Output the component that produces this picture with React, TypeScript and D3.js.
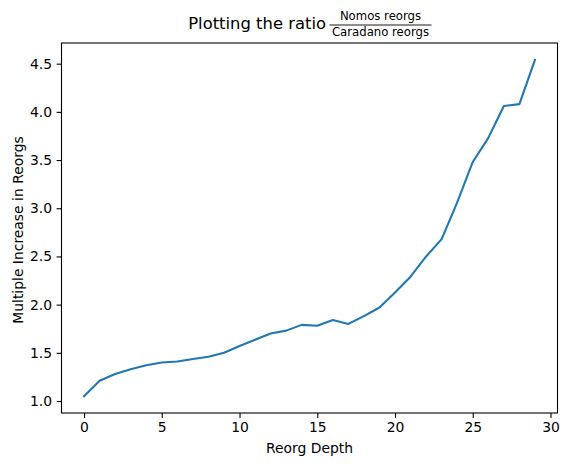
import { useEffect, useRef } from 'react';
import * as d3 from 'd3';

const depths = [0, 1, 2, 3, 4, 5, 6, 7, 8, 9, 10, 11, 12, 13, 14, 15, 16, 17, 18, 19, 20, 21, 22, 23, 24, 25, 26, 27, 28, 29];
const ratios = [1.05, 1.21, 1.28, 1.33, 1.37, 1.40, 1.41, 1.435, 1.46, 1.50, 1.57, 1.635, 1.70, 1.73, 1.79, 1.78,
	1.84, 1.80, 1.88, 1.97, 2.125, 2.29, 2.50, 2.68, 3.06, 3.48, 3.73, 4.06, 4.08, 4.54];
const xTicks = [0, 5, 10, 15, 20, 25, 30];
const yTicks = [1.0, 1.5, 2.0, 2.5, 3.0, 3.5, 4.0, 4.5];

const FONT = 'DejaVu Sans, sans-serif';

export default function App() {
	const svgRef = useRef<SVGSVGElement>(null);

	useEffect(() => {
		const W = 569, H = 466;
		const margin = { top: 43, right: 11.5, bottom: 53, left: 61.5 };
		const width = W - margin.left - margin.right;
		const height = H - margin.top - margin.bottom;

		const svg = d3.select(svgRef.current);
		svg.selectAll('*').remove();

		const xPad = (d3.max(depths)! - d3.min(depths)!) * 0.05;
		const yPad = (d3.max(ratios)! - d3.min(ratios)!) * 0.05;

		const x = d3.scaleLinear()
			.domain([d3.min(depths)! - xPad, d3.max(depths)! + xPad])
			.range([0, width]);
		const y = d3.scaleLinear()
			.domain([d3.min(ratios)! - yPad, d3.max(ratios)! + yPad])
			.range([height, 0]);

		const g = svg.append('g').attr('transform', `translate(${margin.left}, ${margin.top})`);

		// axes
		const xAxis = g.append('g')
			.attr('transform', `translate(0, ${height})`)
			.call(d3.axisBottom(x).tickValues(xTicks).tickFormat(d3.format('d')).tickSize(4.9).tickPadding(4.5));
		const yAxis = g.append('g')
			.call(d3.axisLeft(y).tickValues(yTicks).tickFormat(d3.format('.1f')).tickSize(4.9).tickPadding(4.5));
		[xAxis, yAxis].forEach(a => {
			a.select('.domain').remove();
			a.selectAll('line').attr('stroke', '#000').attr('stroke-width', 1.1);
			a.selectAll('text').attr('fill', '#000').style('font-family', FONT).style('font-size', '13.9px');
		});

		// line
		const line = d3.line<number>()
			.x((_, i) => x(depths[i]))
			.y(d => y(d));
		g.append('path')
			.datum(ratios)
			.attr('fill', 'none')
			.attr('stroke', '#1f77b4')
			.attr('stroke-width', 2.08)
			.attr('stroke-linejoin', 'round')
			.attr('stroke-linecap', 'square')
			.attr('d', line);

		// frame
		g.append('rect')
			.attr('width', width)
			.attr('height', height)
			.attr('fill', 'none')
			.attr('stroke', '#000')
			.attr('stroke-width', 1.1);

		// axis labels
		svg.append('text')
			.attr('x', margin.left + width / 2)
			.attr('y', 453)
			.attr('text-anchor', 'middle')
			.style('font-family', FONT)
			.style('font-size', '13.9px')
			.text('Reorg Depth');
		svg.append('text')
			.attr('transform', `translate(22.5, ${margin.top + height / 2 + 2}) rotate(-90)`)
			.attr('text-anchor', 'middle')
			.style('font-family', FONT)
			.style('font-size', '13.9px')
			.text('Multiple Increase in Reorgs');

		// title with fraction
		const cx = margin.left + width / 2;
		const fracCenter = cx + 71;
		const title = svg.append('g').style('font-family', FONT);
		title.append('text')
			.attr('x', fracCenter - 54.5)
			.attr('y', 29)
			.attr('text-anchor', 'end')
			.style('font-size', '16.4px')
			.text('Plotting the ratio');
		title.append('text')
			.attr('x', fracCenter)
			.attr('y', 20)
			.attr('text-anchor', 'middle')
			.style('font-size', '11.7px')
			.text('Nomos reorgs');
		title.append('line')
			.attr('x1', fracCenter - 51)
			.attr('x2', fracCenter + 51)
			.attr('y1', 25)
			.attr('y2', 25)
			.attr('stroke', '#000')
			.attr('stroke-width', 0.9);
		title.append('text')
			.attr('x', fracCenter)
			.attr('y', 35.5)
			.attr('text-anchor', 'middle')
			.style('font-size', '11.7px')
			.text('Caradano reorgs');
	}, []);

	return (
		<div style={{ position: 'absolute', left: 0, top: 0 }}>
			<svg ref={svgRef} width={569} height={466} style={{ display: 'block', background: '#fff' }} />
		</div>
	);
}
